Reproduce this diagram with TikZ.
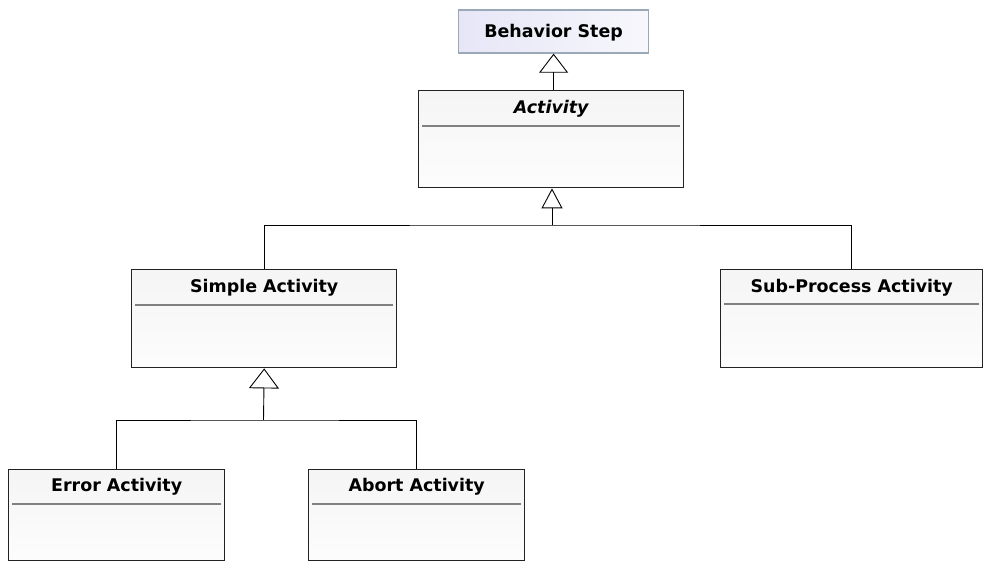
\documentclass[tikz,border=0pt]{standalone}
\usepackage{fontspec}
\setmainfont{DejaVu Sans}
\usetikzlibrary{arrows.meta}
\definecolor{boxline}{HTML}{222222}
\definecolor{sepline}{HTML}{808080}
\definecolor{bsline}{HTML}{9AA8B8}
\definecolor{bsleft}{HTML}{E6E6F7}
\definecolor{bsright}{HTML}{F7F7FC}
\tikzset{
  classbox/.style={draw=boxline, line width=1.4bp, rectangle, inner sep=0pt,
    top color=black!4, bottom color=black!1, anchor=north west},
  stepbox/.style={draw=bsline, line width=1.2bp, rectangle, inner sep=0pt,
    left color=bsleft, right color=bsright, anchor=north west},
  title/.style={font=\fontsize{17.5}{20}\selectfont\bfseries, text=black, inner sep=0pt},
  sepr/.style={draw=sepline, line width=2bp},
  conn/.style={draw=black, line width=0.9bp},
  gen/.style={conn, -{Triangle[open, width=29bp, length=19bp, line width=0.9bp]}},
}
\begin{document}
\begin{tikzpicture}[x=1bp, y=-1bp]
\useasboundingbox[fill=white] (0,0) rectangle (986,561);

% Behavior Step
\node[stepbox, minimum width=190bp, minimum height=43bp] (bs) at (458,9.5) {};
\node[title] (bst) at ([yshift=-1bp]bs.center) {Behavior Step};

% Class boxes
\node[classbox, minimum width=265bp, minimum height=97bp] (act) at (418,90) {};
\node[classbox, minimum width=265bp, minimum height=98bp] (simple) at (131,269) {};
\node[classbox, minimum width=262bp, minimum height=98bp] (sub) at (720,269) {};
\node[classbox, minimum width=216bp, minimum height=91bp] (err) at (8,469) {};
\node[classbox, minimum width=216bp, minimum height=91bp] (abo) at (308,469) {};

% Titles and separators
\node[title, font=\fontsize{17.5}{20}\selectfont\bfseries\itshape] (actt) at ([yshift=-19bp]act.north) {Activity};
\draw[sepr] ([xshift=4bp,yshift=-36bp]act.north west) -- ([xshift=-4bp,yshift=-36bp]act.north east);
\node[title] (simplet) at ([yshift=-19bp]simple.north) {Simple Activity};
\draw[sepr] ([xshift=4bp,yshift=-36bp]simple.north west) -- ([xshift=-4bp,yshift=-36bp]simple.north east);
\node[title] (subt) at ([yshift=-19bp]sub.north) {Sub-Process Activity};
\draw[sepr] ([xshift=4bp,yshift=-35bp]sub.north west) -- ([xshift=-4bp,yshift=-35bp]sub.north east);
\node[title] (errt) at ([yshift=-18bp]err.north) {Error Activity};
\draw[sepr] ([xshift=4bp,yshift=-35bp]err.north west) -- ([xshift=-4bp,yshift=-35bp]err.north east);
\node[title] (abot) at ([yshift=-18bp]abo.north) {Abort Activity};
\draw[sepr] ([xshift=4bp,yshift=-35bp]abo.north west) -- ([xshift=-4bp,yshift=-35bp]abo.north east);

% Generalization: Activity -> Behavior Step
\draw[gen] (bs.south |- act.north) -- (bs.south);

% Generalization tree under Activity
\coordinate (j1) at (552,225);
\coordinate (subtop) at (851,269);
\draw[gen, -{Triangle[open, width=21bp, length=20bp, line width=0.9bp]}] (j1) -- (j1 |- act.south);
\draw[conn] (simple.north) |- (j1) -| (subtop);

% Generalization tree under Simple Activity
\coordinate (j2) at (263.5,420);
\draw[gen, -{Triangle[open, width=30bp, length=20bp, line width=0.9bp]}] (j2) -- (simple.south);
\draw[conn] (err.north) |- (j2) -| (abo.north);
\end{tikzpicture}
\end{document}
